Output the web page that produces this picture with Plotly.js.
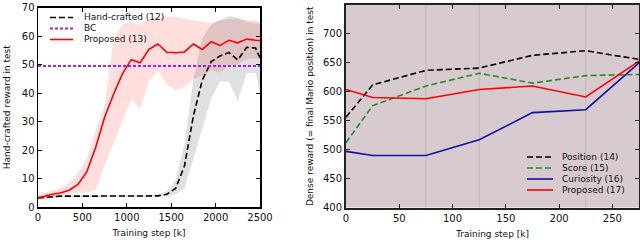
<!DOCTYPE html>
<html><head><meta charset="utf-8">
<script src="https://cdn.plot.ly/plotly-3.0.1.min.js"></script>
<style>html,body{margin:0;padding:0;background:#fff}#chart{width:640px;height:243px}</style>
</head><body><div id="chart"></div>
<script>
// ---- Left chart: hand-crafted reward in test ----
const steps = [0,150,250,350,450,550,650,750,850,950,1050,1150,1250,1350,1450,1550,1650,1750,1850,1950,2050,2150,2250,2350,2450,2500];
const handcrafted      = [3.2,3.6,3.8,3.8,3.8,3.8,3.8,3.8,3.8,3.9,3.8,3.7,3.8,3.9,4.5,6.5,14.5,32,44.5,51,53,54.2,51.6,56,55.8,52.3];
const handcraftedLower = [3.0,3.2,3.4,3.4,3.4,3.4,3.4,3.4,3.4,3.5,3.4,3.3,3.4,3.5,3.6,4.5,6.5,17,28,38,44,44,37,47,47,40.5];
const handcraftedUpper = [3.5,4.0,4.2,4.2,4.2,4.2,4.2,4.2,4.2,4.3,4.2,4.1,4.2,4.4,5.5,9.5,22,45,59,64,65.5,67,66.5,65,64.5,64.5];
const proposedL      = [3.2,4.4,4.9,5.9,7.9,12.4,21,31.5,39.5,46.7,51.7,50.6,55.3,57.2,54.3,54.1,54.4,57.2,55.3,58,56.7,58.5,57.6,58.9,58.5,58.4];
const proposedLLower = [2.3,3.2,3.8,4.5,5,5,6,14.5,22,30,38,34.5,44,48,43,41,42,45,46,48,47,50,50,52,52,52];
const proposedLUpper = [4.3,5.6,6.6,8.5,12,17,27,35.5,59,64,65,64,66,66.5,66.5,67,66,65.5,65,64.5,65.5,66,66,65.5,65.5,65];
const bcRange = [0,2500];
const bcValue = [49.5,49.5];

// ---- Right chart: dense reward in test ----
const stepsR = [0,25,75,125,175,225,275];
const position  = [556,612,637,641,663,671,656];
const score     = [512,576,610,632,615,628,630];
const curiosity = [497,490,490,517,564,569,650];
const proposedR = [604,590,588,604,610,591,653];
const gridMarksR = [75,125,225];

const leftNames = ['Hand-crafted (12)','BC','Proposed (13)'];
const rightNames = ['Position (14)','Score (15)','Curiosity (16)','Proposed (17)'];

const FONT = 'DejaVu Sans, Verdana, sans-serif';
const W = 640, H = 243;
const px = v => v / W;
const py = v => 1 - v / H;

const cBlack = '#000000', cRed = '#ff0000', cPurple = '#a020f0', cGreen = '#2a8a2a', cBlue = '#1010a8';
const dashBlack = '6px,3px';

const traces = [
  {x: steps, y: proposedLLower, mode:'lines', line:{width:0}, showlegend:false, hoverinfo:'skip', xaxis:'x', yaxis:'y'},
  {x: steps, y: proposedLUpper, mode:'lines', line:{width:0}, fill:'tonexty', fillcolor:'rgba(255,0,0,0.13)', showlegend:false, hoverinfo:'skip', xaxis:'x', yaxis:'y'},
  {x: steps, y: handcraftedLower, mode:'lines', line:{width:0}, showlegend:false, hoverinfo:'skip', xaxis:'x', yaxis:'y'},
  {x: steps, y: handcraftedUpper, mode:'lines', line:{width:0}, fill:'tonexty', fillcolor:'rgba(0,0,0,0.12)', showlegend:false, hoverinfo:'skip', xaxis:'x', yaxis:'y'},
  {x: steps, y: handcrafted, name: leftNames[0], mode:'lines', line:{color:cBlack, width:1.6, dash:dashBlack}, showlegend:false, xaxis:'x', yaxis:'y'},
  {x: bcRange, y: bcValue, name: leftNames[1], mode:'lines', line:{color:cPurple, width:2, dash:'3px,2px'}, showlegend:false, xaxis:'x', yaxis:'y'},
  {x: steps, y: proposedL, name: leftNames[2], mode:'lines', line:{color:cRed, width:1.6}, showlegend:false, xaxis:'x', yaxis:'y'},

  {x: stepsR, y: position, name: rightNames[0], mode:'lines', line:{color:cBlack, width:1.6, dash:dashBlack}, showlegend:false, xaxis:'x2', yaxis:'y2'},
  {x: stepsR, y: score, name: rightNames[1], mode:'lines', line:{color:cGreen, width:1.6, dash:dashBlack}, showlegend:false, xaxis:'x2', yaxis:'y2'},
  {x: stepsR, y: curiosity, name: rightNames[2], mode:'lines', line:{color:cBlue, width:1.6}, showlegend:false, xaxis:'x2', yaxis:'y2'},
  {x: stepsR, y: proposedR, name: rightNames[3], mode:'lines', line:{color:cRed, width:1.6}, showlegend:false, xaxis:'x2', yaxis:'y2'}
];

// custom compact legends (keys + labels)
const shapes = [];
const annotations = [];
// right plot background and faint grid
shapes.push({type:'rect', xref:'x2 domain', yref:'y2 domain', x0:0, x1:1, y0:0, y1:1, fillcolor:'#d8cbcf', line:{width:0}, layer:'below'});
gridMarksR.forEach(g => shapes.push({type:'line', xref:'x2', yref:'y2 domain', x0:g, x1:g, y0:0, y1:1, line:{color:'#c4b6ba', width:1}, layer:'below'}));

const leftStyles = [traces[4].line, traces[5].line, traces[6].line];
const rightStyles = [traces[7].line, traces[8].line, traces[9].line, traces[10].line];
function addLegend(names, styles, x0, x1, xt, y0, dy) {
  names.forEach((n, i) => {
    const yy = y0 + i * dy;
    shapes.push({type:'line', xref:'paper', yref:'paper', x0:px(x0), x1:px(x1), y0:py(yy), y1:py(yy), line:{color:styles[i].color, width:styles[i].width, dash:styles[i].dash || 'solid'}});
    annotations.push({xref:'paper', yref:'paper', x:px(xt), y:py(yy), xanchor:'left', yanchor:'middle', text:n, showarrow:false, font:{family:FONT, size:9, color:'#111'}});
  });
}
addLegend(leftNames, leftStyles, 50, 73, 82, 17.5, 11);
addLegend(rightNames, rightStyles, 527, 553, 560, 157, 11);

const axisCommon = {ticks:'inside', ticklen:4, tickwidth:1, mirror:'ticks', showline:true, showgrid:false, zeroline:false,
  tickfont:{family:FONT, size:10, color:'#111'}};

const layout = {
  width: W, height: H,
  margin:{l:0, r:0, t:0, b:0},
  paper_bgcolor:'#ffffff', plot_bgcolor:'rgba(0,0,0,0)',
  showlegend:false,
  font:{family:FONT, color:'#111'},
  xaxis: Object.assign({}, axisCommon, {domain:[px(38), px(260)], anchor:'y', range:[0,2500], tickvals:[0,500,1000,1500,2000,2500],
    linecolor:'#000', linewidth:1.5, tickcolor:'#000', title:{text:'Training step [k]', font:{family:FONT, size:9, color:'#111'}, standoff:8}}),
  yaxis: Object.assign({}, axisCommon, {domain:[py(207), py(7.5)], anchor:'x', range:[0,70], dtick:10,
    linecolor:'#000', linewidth:1.5, tickcolor:'#000', title:{text:'Hand-crafted reward in test', font:{family:FONT, size:9, color:'#111'}, standoff:9}}),
  xaxis2: Object.assign({}, axisCommon, {domain:[px(346), px(639)], anchor:'y2', range:[0,275], tickvals:[0,50,100,150,200,250],
    linecolor:'#222', linewidth:2, tickcolor:'#222', title:{text:'Training step [k]', font:{family:FONT, size:9, color:'#111'}, standoff:8}}),
  yaxis2: Object.assign({}, axisCommon, {domain:[py(207.5), py(5)], anchor:'x2', range:[400,750], dtick:50,
    linecolor:'#222', linewidth:2, tickcolor:'#222', title:{text:'Dense reward (= final Mario position) in test', font:{family:FONT, size:9, color:'#111'}, standoff:8}}),
  shapes: shapes,
  annotations: annotations
};

Plotly.newPlot('chart', traces, layout, {staticPlot:true, displayModeBar:false});
</script>
</body></html>
